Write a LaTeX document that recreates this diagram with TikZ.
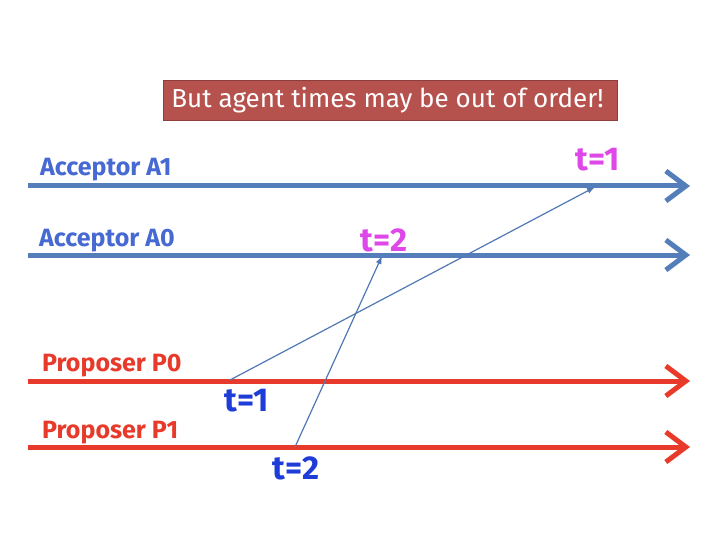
\documentclass[tikz,border=0pt]{standalone}
\usepackage{fontspec}
\setmainfont{Fira Sans}
\usetikzlibrary{arrows.meta}
\definecolor{accblue}{RGB}{84,126,186}
\definecolor{acctext}{RGB}{70,105,210}
\definecolor{propred}{RGB}{232,58,42}
\definecolor{mag}{RGB}{222,72,232}
\definecolor{tblue}{RGB}{30,60,215}
\definecolor{boxfill}{RGB}{182,82,78}
\definecolor{boxdraw}{RGB}{140,62,60}
\definecolor{msg}{RGB}{80,120,180}
\tikzset{
  timeline/.style={line width=5pt, -{Straight Barb[length=20pt,width=30pt,line width=5pt]}},
  lbl/.style={anchor=base west, font=\fontsize{25}{29}\selectfont\bfseries, inner sep=0pt},
  tlbl/.style={font=\fontsize{33}{38}\selectfont\bfseries, inner sep=0pt},
  msgline/.style={line width=1.2pt, draw=msg, -{Latex[length=8pt,width=6pt]}}
}
\begin{document}
\begin{tikzpicture}[x=1pt,y=-1pt]
\useasboundingbox[fill=white] (0,0) rectangle (720,540);
\node[fill=boxfill, draw=boxdraw, line width=1pt, minimum width=454pt, minimum height=40pt, anchor=north west, text=white, font=\fontsize{26}{30}\selectfont, inner sep=0pt] (title) at (163,80) {\hspace*{-6pt}But agent times may be out of order!};
% timelines
\coordinate (a1s) at (28,186); \coordinate (a1e) at (690,186);
\coordinate (a0s) at (28,255); \coordinate (a0e) at (690,255);
\coordinate (p0s) at (28,381); \coordinate (p0e) at (690,381);
\coordinate (p1s) at (28,447); \coordinate (p1e) at (690,447);
\draw[timeline, accblue] (a1s) -- (a1e);
\draw[timeline, accblue] (a0s) -- (a0e);
\draw[timeline, propred] (p0s) -- (p0e);
\draw[timeline, propred] (p1s) -- (p1e);
\node[lbl, text=acctext] (la1) at (40,176) {Acceptor A1};
\node[lbl, text=acctext] (la0) at (39,246) {Acceptor A0};
\node[lbl, text=propred] (lp0) at (42,371) {Proposer P0};
\node[lbl, text=propred] (lp1) at (42,438) {Proposer P1};
% messages
\coordinate (m1s) at (230,380); \coordinate (m1e) at (595,187);
\coordinate (m2s) at (295,447); \coordinate (m2e) at (382,256);
\draw[msgline] (m1s) -- (m1e);
\draw[msgline] (m2s) -- (m2e);
\node[tlbl, text=mag] (ta1) at (598,160) {t=1};
\node[tlbl, text=mag] (ta0) at (384,240) {t=2};
\node[tlbl, text=tblue] (tp0) at (247,401) {t=1};
\node[tlbl, text=tblue] (tp1) at (296,468) {t=2};
\end{tikzpicture}
\end{document}
